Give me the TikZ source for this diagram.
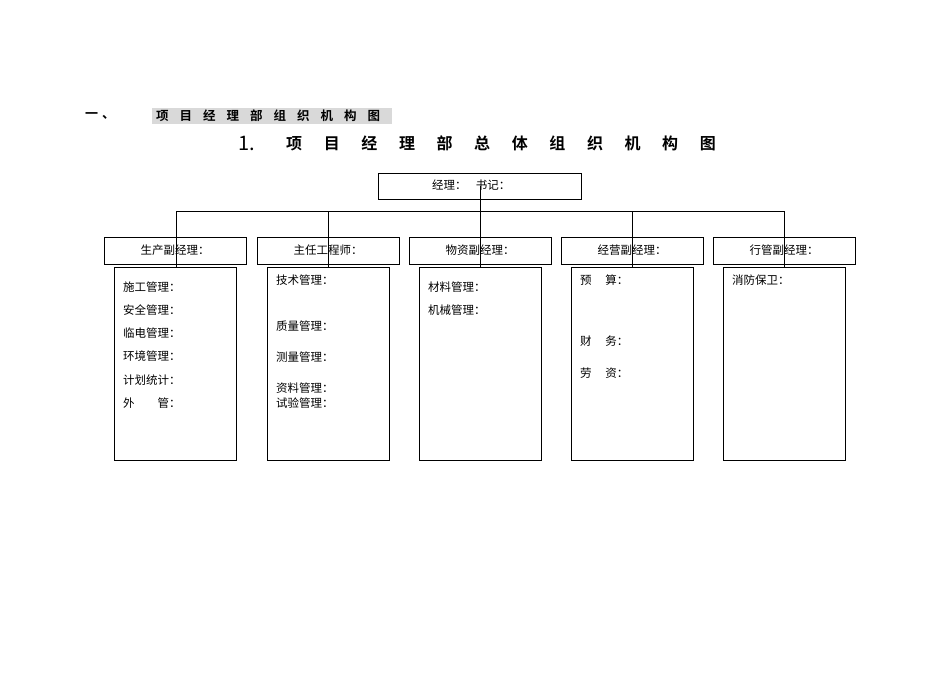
\documentclass[tikz,border=0pt]{standalone}
\usepackage{fontspec}
\setmainfont{Noto Sans CJK SC}[BoldFont={Noto Sans CJK SC Bold}]
\begin{document}
\begin{tikzpicture}[x=1pt,y=-1pt,
  bx/.style={draw,line width=0.8pt},
  ln/.style={line width=0.6pt},
  tx/.style={anchor=west,inner sep=0pt,font=\fontsize{11.5}{13}\selectfont}]
\useasboundingbox (0,0) rectangle (950,672);
\fill[gray!30] (152,108) rectangle (392,124);
\node[anchor=west,inner sep=0pt,font=\fontsize{13}{14}\selectfont\bfseries] (h1) at (85,116) {一\hspace{4pt}、};
\node[anchor=west,inner sep=0pt,font=\fontsize{12.5}{13}\selectfont\bfseries] (h2) at (156,116) {项\hspace{11pt}目\hspace{11pt}经\hspace{11pt}理\hspace{11pt}部\hspace{11pt}组\hspace{11pt}织\hspace{11pt}机\hspace{11pt}构\hspace{11pt}图};
\node[anchor=west,inner sep=0pt,font=\fontsize{20}{22}\selectfont] (t1) at (238,143) {\rmfamily 1.};
\node[anchor=west,inner sep=0pt,font=\fontsize{16}{18}\selectfont\bfseries] (t2) at (286,143) {项\hspace{21.6pt}目\hspace{21.6pt}经\hspace{21.6pt}理\hspace{21.6pt}部\hspace{21.6pt}总\hspace{21.6pt}体\hspace{21.6pt}组\hspace{21.6pt}织\hspace{21.6pt}机\hspace{21.6pt}构\hspace{21.6pt}图};
% top
\draw[bx] (378,173) rectangle (581,199);
\node[tx] (top) at (432,185) {经理：\hspace{0.8em}书记：};
\coordinate (tc) at (480,186);
% middle
\foreach \x/\t [count=\i] in {104/生产副经理：,257/主任工程师：,409/物资副经理：,561/经营副经理：,713/行管副经理：}{
  \draw[bx] (\x,237) rectangle ++(142,27);
  \node[font=\fontsize{11.5}{13}\selectfont,inner sep=0pt] (m\i) at (\x+71,250) {\t};
  \draw[bx] (\x+10,267) rectangle ++(122,193);
}
\draw[ln] (tc) -- (480,211) (176,211) -- (784,211);
\foreach \x in {176,328,480,632,784}{ \draw[ln] (\x,211) -- (\x,267); }
% contents
\foreach \y/\t in {287/施工管理：,310/安全管理：,333/临电管理：,356/环境管理：,380/计划统计：,403/外\hspace{2em}管：}{\node[tx] at (123,\y) {\t};}
\foreach \y/\t in {280/技术管理：,326/质量管理：,357/测量管理：,388/资料管理：,403/试验管理：}{\node[tx] at (276,\y) {\t};}
\foreach \y/\t in {287/材料管理：,310/机械管理：}{\node[tx] at (428,\y) {\t};}
\foreach \y/\t in {280/预\hspace{1.2em}算：,341/财\hspace{1.2em}务：,373/劳\hspace{1.2em}资：}{\node[tx] at (580,\y) {\t};}
\node[tx] at (732,280) {消防保卫：};
\end{tikzpicture}
\end{document}
